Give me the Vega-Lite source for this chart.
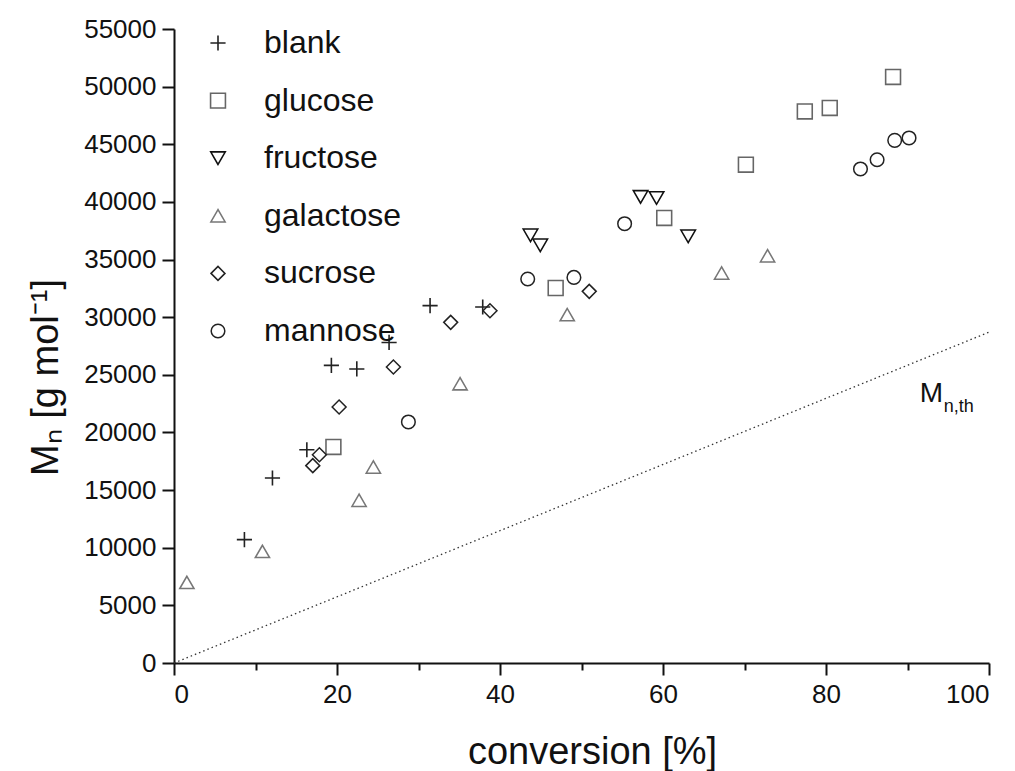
{
  "$schema": "https://vega.github.io/schema/vega-lite/v6.json",
  "autosize": {"type": "none"},
  "padding": {"left": 174, "top": 29, "right": 26, "bottom": 108},
  "width": 815,
  "height": 634,
  "background": "white",
  "config": {
    "view": {"stroke": null},
    "font": "Liberation Sans",
    "axis": {
      "domainColor": "#111",
      "domainWidth": 2,
      "tickColor": "#111",
      "tickWidth": 2,
      "labelFont": "Liberation Sans",
      "labelFontSize": 26,
      "labelColor": "#111",
      "titleFont": "Liberation Sans",
      "titleFontWeight": "normal",
      "titleColor": "#111",
      "titleFontSize": 38,
      "grid": false
    }
  },
  "datasets": {
    "pts": [
      {"series": "blank", "conv": 8.64, "Mn": 10700},
      {"series": "blank", "conv": 12.08, "Mn": 16050},
      {"series": "blank", "conv": 16.3, "Mn": 18500},
      {"series": "blank", "conv": 19.31, "Mn": 25820},
      {"series": "blank", "conv": 22.43, "Mn": 25510},
      {"series": "blank", "conv": 26.39, "Mn": 27810},
      {"series": "blank", "conv": 31.42, "Mn": 31000},
      {"series": "blank", "conv": 37.88, "Mn": 30880},
      {"series": "glucose", "conv": 19.56, "Mn": 18740},
      {"series": "glucose", "conv": 46.83, "Mn": 32530},
      {"series": "glucose", "conv": 60.15, "Mn": 38610},
      {"series": "glucose", "conv": 70.17, "Mn": 43230},
      {"series": "glucose", "conv": 77.4, "Mn": 47850},
      {"series": "glucose", "conv": 80.46, "Mn": 48150},
      {"series": "glucose", "conv": 88.23, "Mn": 50840},
      {"series": "fructose", "conv": 43.74, "Mn": 37100},
      {"series": "fructose", "conv": 44.94, "Mn": 36230},
      {"series": "fructose", "conv": 57.25, "Mn": 40430},
      {"series": "fructose", "conv": 59.21, "Mn": 40340},
      {"series": "fructose", "conv": 63.09, "Mn": 37010},
      {"series": "galactose", "conv": 1.58, "Mn": 6990},
      {"series": "galactose", "conv": 10.85, "Mn": 9680},
      {"series": "galactose", "conv": 22.71, "Mn": 14120},
      {"series": "galactose", "conv": 24.46, "Mn": 17000},
      {"series": "galactose", "conv": 35.1, "Mn": 24230},
      {"series": "galactose", "conv": 48.25, "Mn": 30220},
      {"series": "galactose", "conv": 67.19, "Mn": 33830},
      {"series": "galactose", "conv": 72.83, "Mn": 35330},
      {"series": "sucrose", "conv": 17.03, "Mn": 17120},
      {"series": "sucrose", "conv": 17.84, "Mn": 18070},
      {"series": "sucrose", "conv": 20.26, "Mn": 22210},
      {"series": "sucrose", "conv": 26.92, "Mn": 25680},
      {"series": "sucrose", "conv": 33.95, "Mn": 29550},
      {"series": "sucrose", "conv": 38.77, "Mn": 30560},
      {"series": "sucrose", "conv": 50.95, "Mn": 32240},
      {"series": "mannose", "conv": 28.76, "Mn": 20910},
      {"series": "mannose", "conv": 43.4, "Mn": 33310},
      {"series": "mannose", "conv": 49.07, "Mn": 33450},
      {"series": "mannose", "conv": 55.29, "Mn": 38110},
      {"series": "mannose", "conv": 84.23, "Mn": 42860},
      {"series": "mannose", "conv": 86.27, "Mn": 43660},
      {"series": "mannose", "conv": 88.43, "Mn": 45340},
      {"series": "mannose", "conv": 90.19, "Mn": 45550}
    ],
    "theory": [
      {"conv": 0, "Mn": 0},
      {"conv": 100, "Mn": 28700}
    ],
    "anno": [
      {"conv": 91.5, "Mn": 22670}
    ]
  },
  "layer": [
    {
      "data": {"name": "theory"},
      "mark": {"type": "line", "color": "#333", "strokeWidth": 1.3, "strokeDash": [1.5, 3]},
      "encoding": {
        "x": {
          "field": "conv", "type": "quantitative",
          "scale": {"domain": [0, 100], "nice": false, "zero": false},
          "axis": {
            "title": "conversion [%]",
            "values": [0, 10, 20, 30, 40, 50, 60, 70, 80, 90, 100],
            "labelExpr": "datum.value % 20 == 0 ? datum.label : ''",
            "format": "d",
            "tickSize": {"condition": {"test": "datum.value % 20 == 0", "value": 12}, "value": 7},
            "labelPadding": 6,
            "titlePadding": 26,
            "titleX": 418
          }
        },
        "y": {
          "field": "Mn", "type": "quantitative",
          "scale": {"domain": [0, 55000], "nice": false, "zero": false},
          "axis": {
            "title": "Mₙ [g mol⁻¹]",
            "values": [0, 2500, 5000, 7500, 10000, 12500, 15000, 17500, 20000, 22500, 25000, 27500, 30000, 32500, 35000, 37500, 40000, 42500, 45000, 47500, 50000, 52500, 55000],
            "labelExpr": "datum.value % 5000 == 0 ? datum.label : ''",
            "format": "d",
            "tickSize": {"condition": {"test": "datum.value % 5000 == 0", "value": 12}, "value": 7},
            "labelPadding": 6,
            "titlePadding": 18,
            "titleY": 348
          }
        }
      }
    },
    {
      "data": {"name": "pts"},
      "mark": {"type": "point", "filled": false, "opacity": 1},
      "encoding": {
        "x": {"field": "conv", "type": "quantitative"},
        "y": {"field": "Mn", "type": "quantitative"},
        "shape": {
          "field": "series", "type": "nominal",
          "scale": {
            "domain": ["blank", "glucose", "fructose", "galactose", "sucrose", "mannose"],
            "range": ["M-1,0H1M0,-1V1", "square", "triangle-down", "triangle-up", "diamond", "circle"]
          },
          "legend": {
            "title": null, "orient": "none", "legendX": 28, "legendY": -2,
            "labelFontSize": 32, "labelFont": "Liberation Sans", "labelColor": "#111",
            "rowPadding": 25.6, "labelOffset": 30, "padding": 0
          }
        },
        "stroke": {
          "field": "series", "type": "nominal",
          "scale": {
            "domain": ["blank", "glucose", "fructose", "galactose", "sucrose", "mannose"],
            "range": ["#222", "#666", "#111", "#777", "#222", "#222"]
          },
          "legend": {
            "title": null, "orient": "none", "legendX": 28, "legendY": -2,
            "labelFontSize": 32, "labelFont": "Liberation Sans", "labelColor": "#111",
            "rowPadding": 25.6, "labelOffset": 30, "padding": 0
          }
        },
        "strokeWidth": {
          "field": "series", "type": "nominal",
          "scale": {
            "domain": ["blank", "glucose", "fructose", "galactose", "sucrose", "mannose"],
            "range": [1.6, 1.5, 2.6, 1.4, 2, 2.2]
          },
          "legend": {
            "title": null, "orient": "none", "legendX": 28, "legendY": -2,
            "labelFontSize": 32, "labelFont": "Liberation Sans", "labelColor": "#111",
            "rowPadding": 25.6, "labelOffset": 30, "padding": 0
          }
        },
        "size": {
          "field": "series", "type": "nominal",
          "scale": {
            "domain": ["blank", "glucose", "fructose", "galactose", "sucrose", "mannose"],
            "range": [230, 185, 290, 300, 250, 230]
          },
          "legend": {
            "title": null, "orient": "none", "legendX": 28, "legendY": -2,
            "labelFontSize": 32, "labelFont": "Liberation Sans", "labelColor": "#111",
            "rowPadding": 25.6, "labelOffset": 30, "padding": 0
          }
        }
      }
    },
    {
      "data": {"name": "anno"},
      "mark": {"type": "text", "text": "M", "font": "Liberation Sans", "fontSize": 28, "align": "left", "baseline": "alphabetic", "color": "#111"},
      "encoding": {
        "x": {"field": "conv", "type": "quantitative"},
        "y": {"field": "Mn", "type": "quantitative"}
      }
    },
    {
      "data": {"name": "anno"},
      "mark": {"type": "text", "text": "n,th", "font": "Liberation Sans", "fontSize": 18, "align": "left", "baseline": "alphabetic", "color": "#111", "dx": 24, "dy": 10},
      "encoding": {
        "x": {"field": "conv", "type": "quantitative"},
        "y": {"field": "Mn", "type": "quantitative"}
      }
    }
  ]
}
